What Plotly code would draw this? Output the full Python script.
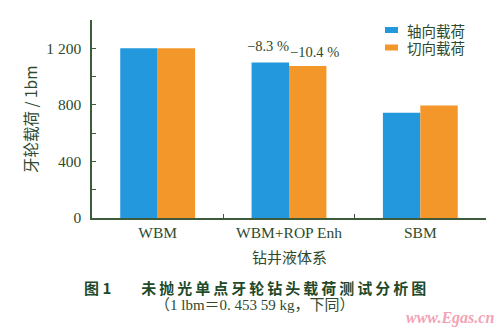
import plotly.graph_objects as go

# Drilling fluid systems and measured cone loads (lbm)
categories = ["WBM", "WBM+ROP Enh", "SBM"]
axial_load = [1200, 1100, 745]
tangential_load = [1200, 1075, 795]
series_names = ["轴向载荷", "切向载荷"]
change_labels = {"WBM+ROP Enh": ["−8.3 %", "−10.4 %"]}
y_tick_values = [0, 200, 400, 600, 800, 1000, 1200, 1400]
y_tick_text = ["0", "", "400", "", "800", "", "1 200", ""]

BLUE = "#2398dd"
ORANGE = "#f4972a"
INK = "#2e4a2e"
AXIS = "#3d5a3a"
SERIF = "Liberation Serif, Times New Roman, serif"
CJK = "Noto Sans CJK SC, sans-serif"

fig = go.Figure()
fig.add_trace(go.Bar(x=categories, y=axial_load, name=series_names[0],
                     marker=dict(color=BLUE, line=dict(width=0)), showlegend=False))
fig.add_trace(go.Bar(x=categories, y=tangential_load, name=series_names[1],
                     marker=dict(color=ORANGE, line=dict(width=0)), showlegend=False))

# percentage change labels above the WBM+ROP Enh bars
for cat, labels in change_labels.items():
    i = categories.index(cat)
    for vals, lab, dx, dy in ((axial_load, labels[0], -21, 6), (tangential_load, labels[1], 25, 4)):
        fig.add_annotation(x=cat, y=vals[i], text=lab, showarrow=False,
                           xref="x", yref="y", xshift=dx, yshift=dy, yanchor="bottom",
                           font=dict(family=SERIF, size=14.5, color=INK))

# legend keys and labels
PX_W, PX_H = 394, 198   # plot area size in pixels
for k, (name, col) in enumerate(zip(series_names, [BLUE, ORANGE])):
    yc = 30 + k * 17.5
    fig.add_shape(type="rect", xref="paper", yref="paper",
                  x0=(385 - 92) / PX_W, x1=(398 - 92) / PX_W,
                  y0=(218 - yc - 3) / PX_H, y1=(218 - yc + 3) / PX_H,
                  fillcolor=col, line=dict(width=0))
    fig.add_annotation(xref="paper", yref="paper", x=(405 - 92) / PX_W, y=(218 - yc) / PX_H,
                       text=name, showarrow=False, xanchor="left", yanchor="middle",
                       font=dict(family=CJK, size=14.5, color=INK))

# axis titles
fig.add_annotation(xref="paper", yref="paper", x=0.5, y=0, yshift=-38, text="钻井液体系",
                   showarrow=False, yanchor="middle", font=dict(family=CJK, size=15, color=INK))
fig.add_annotation(xref="paper", yref="paper", x=0, xshift=-62, y=0.5, text="牙轮载荷 / 1bm",
                   textangle=-90, showarrow=False, xanchor="center",
                   font=dict(family=CJK + ", " + SERIF, size=15.5, color=INK))

# figure caption
fig.add_annotation(xref="paper", yref="paper", x=(255 - 92) / PX_W, y=0, yshift=-69,
                   text="图 1\u2003\u2003" + "\u2009".join("未抛光单点牙轮钻头载荷测试分析图"),
                   showarrow=False, yanchor="middle",
                   font=dict(family=CJK, size=15, color="#1f4a2a", weight="bold"))
fig.add_annotation(xref="paper", yref="paper", x=(255 - 92) / PX_W, y=0, yshift=-87,
                   text="（1 lbm＝0. 453 59 kg，下同）", showarrow=False, yanchor="middle",
                   font=dict(family=SERIF + ", " + CJK, size=15, color=INK))
fig.add_annotation(xref="paper", yref="paper", x=(496 - 92) / PX_W, y=0, yshift=-100,
                   text="<i><b>www.Egas.cn</b></i>", showarrow=False, xanchor="right",
                   yanchor="middle",
                   font=dict(family=SERIF, size=16, color="#f2a3b4"))

fig.update_layout(
    width=500, height=328,
    margin=dict(l=92, r=14, t=20, b=110),
    paper_bgcolor="white", plot_bgcolor="white",
    barmode="group", bargap=0.43, bargroupgap=0,
    xaxis=dict(showline=True, linecolor=AXIS, linewidth=1.5, ticks="inside", ticklen=4,
               tickcolor=AXIS, tickwidth=1.2, tickson="boundaries", showgrid=False,
               ticklabelstandoff=0,
               tickfont=dict(family=SERIF, size=15.5, color=INK)),
    yaxis=dict(range=[0, 1400], showline=True, linecolor=AXIS, linewidth=1.5,
               ticks="inside", ticklen=4, tickcolor=AXIS, tickwidth=1.2,
               tickvals=y_tick_values, ticktext=y_tick_text, showgrid=False, zeroline=False,
               ticklabelstandoff=6,
               tickfont=dict(family=SERIF, size=15.5, color=INK)),
)

fig.write_html("out.html")
